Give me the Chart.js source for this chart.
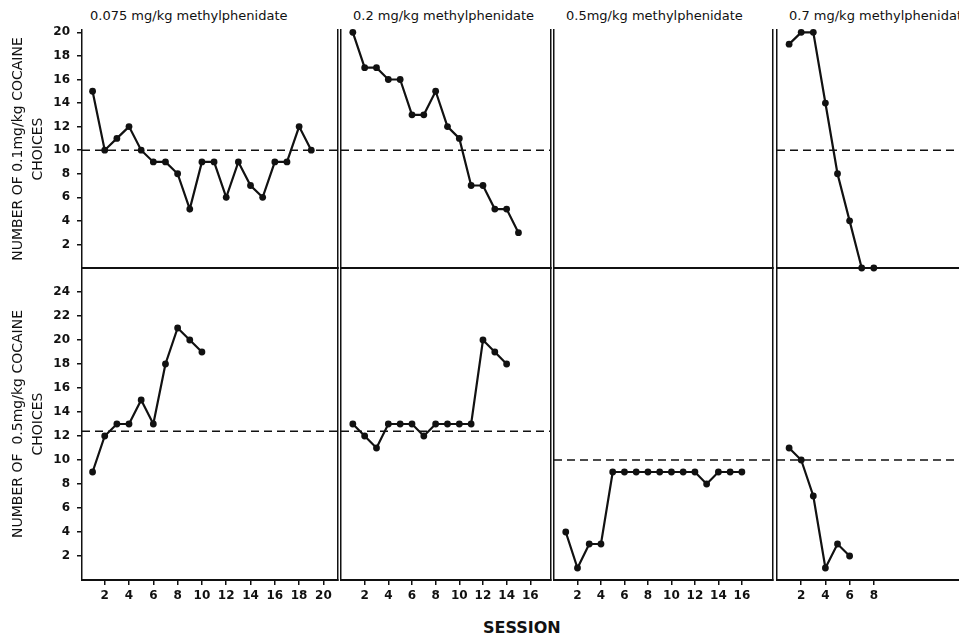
<!DOCTYPE html>
<html lang="en">
<head>
  <meta charset="utf-8" />
  <title>Cocaine choices under methylphenidate</title>
  <script src="https://cdn.jsdelivr.net/npm/chart.js"></script>
  <style>
    html, body { margin: 0; padding: 0; background: #fff; }
    #figure { position: relative; width: 959px; height: 639px; overflow: hidden; }
    #figure canvas { position: absolute; left: 0; top: 0; }
    .dose { position: absolute; top: 8px; font: 13px "DejaVu Sans", sans-serif; color: #111; white-space: nowrap; }
    #session { position: absolute; left: 483px; top: 618px; font: bold 16px "DejaVu Sans", sans-serif; color: #111; }
  </style>
</head>
<body>
  <div id="figure">
    <div id="session">SESSION</div>
  </div>

  <script>
    // ---- data ----
    const sessionNumbers = [1, 2, 3, 4, 5, 6, 7, 8, 9, 10, 11, 12, 13, 14, 15, 16, 17, 18, 19, 20];
    const doseTitles = ['0.075 mg/kg methylphenidate', '0.2 mg/kg methylphenidate',
                        '0.5mg/kg methylphenidate', '0.7 mg/kg methylphenidate'];

    // number of 0.1 mg/kg cocaine choices (top row)
    const lowCocMph075 = [15, 10, 11, 12, 10, 9, 9, 8, 5, 9, 9, 6, 9, 7, 6, 9, 9, 12, 10];
    const lowCocMph02  = [20, 17, 17, 16, 16, 13, 13, 15, 12, 11, 7, 7, 5, 5, 3];
    const lowCocMph05  = [];
    const lowCocMph07  = [19, 20, 20, 14, 8, 4, 0, 0];

    // number of 0.5 mg/kg cocaine choices (bottom row)
    const highCocMph075 = [9, 12, 13, 13, 15, 13, 18, 21, 20, 19];
    const highCocMph02  = [13, 12, 11, 13, 13, 13, 12, 13, 13, 13, 13, 20, 19, 18];
    const highCocMph05  = [4, 1, 3, 3, 9, 9, 9, 9, 9, 9, 9, 9, 8, 9, 9, 9];
    const highCocMph07  = [11, 10, 7, 1, 3, 2];

    // dashed baseline levels per panel
    const lowCocBaseline  = [10, 10, null, 10];
    const highCocBaseline = [12.4, 12.4, 10, 10];

    // tick labels
    const topYTicks    = [2, 4, 6, 8, 10, 12, 14, 16, 18, 20];
    const bottomYTicks = [2, 4, 6, 8, 10, 12, 14, 16, 18, 20, 22, 24];
    const xTicks075 = [2, 4, 6, 8, 10, 12, 14, 16, 18, 20];
    const xTicks02  = [2, 4, 6, 8, 10, 12, 14, 16];
    const xTicks05  = [2, 4, 6, 8, 10, 12, 14, 16];
    const xTicks07  = [2, 4, 6, 8];

    const yTitles = [['NUMBER OF 0.1mg/kg COCAINE', 'CHOICES'],
                     ['NUMBER OF  0.5mg/kg COCAINE', 'CHOICES']];

    // ---- layout ----
    const FIG_W = 980, FIG_H = 639, X_AXIS_H = 30;
    const INK = '#111';
    const FONT = '"DejaVu Sans", sans-serif';

    const columns = [
      { left: 82,  right: 338, min: 0.13, max: 21.2,  ticks: xTicks075, titleX: 90 },
      { left: 341, right: 551, min: 0,    max: 17.75, ticks: xTicks02,  titleX: 353 },
      { left: 554, right: 773, min: 0,    max: 18.65, ticks: xTicks05,  titleX: 566 },
      { left: 777, right: 970, min: 0,    max: 15.95, ticks: xTicks07,  titleX: 789 }
    ];
    const rows = [
      { top: 30,  bottom: 268, max: 20.2, ticks: topYTicks,    series: [lowCocMph075, lowCocMph02, lowCocMph05, lowCocMph07],    baseline: lowCocBaseline },
      { top: 268, bottom: 580, max: 26,   ticks: bottomYTicks, series: [highCocMph075, highCocMph02, highCocMph05, highCocMph07], baseline: highCocBaseline }
    ];

    const figure = document.getElementById('figure');

    doseTitles.forEach((t, c) => {
      const div = document.createElement('div');
      div.className = 'dose';
      div.style.left = columns[c].titleX + 'px';
      div.textContent = t;
      figure.appendChild(div);
    });

    function setTicks(values) {
      return scale => { scale.ticks = values.map(v => ({ value: v })); };
    }

    function makePanel(r, c) {
      const col = columns[c], row = rows[r];
      const canvas = document.createElement('canvas');
      canvas.width = FIG_W;
      canvas.height = FIG_H;
      figure.appendChild(canvas);

      const first = c === 0;
      const yWidth = first ? col.left : 0;
      const values = row.series[c];

      const datasets = [{
        data: values.map((v, i) => ({ x: sessionNumbers[i], y: v })),
        borderColor: INK,
        backgroundColor: INK,
        borderWidth: 2.2,
        pointRadius: 3.4,
        pointBorderWidth: 0,
        tension: 0,
        clip: false
      }];
      if (row.baseline[c] !== null) {
        datasets.push({
          data: [{ x: col.min, y: row.baseline[c] }, { x: col.max, y: row.baseline[c] }],
          borderColor: INK,
          borderWidth: 1.4,
          borderDash: [8, 5],
          pointRadius: 0,
          clip: false
        });
      }

      new Chart(canvas, {
        type: 'line',
        data: { datasets },
        options: {
          responsive: false,
          animation: false,
          events: [],
          devicePixelRatio: 1,
          layout: {
            padding: {
              left: col.left - yWidth,
              right: FIG_W - col.right,
              top: row.top,
              bottom: FIG_H - row.bottom - X_AXIS_H
            }
          },
          plugins: { legend: { display: false }, tooltip: { enabled: false } },
          scales: {
            x: {
              type: 'linear',
              min: col.min,
              max: col.max,
              afterBuildTicks: setTicks(col.ticks),
              afterFit: s => { s.height = X_AXIS_H; },
              ticks: { display: r === 1, padding: 4, color: INK, font: { family: FONT, size: 12, weight: 'bold' }, maxRotation: 0 },
              grid: { drawOnChartArea: false, drawTicks: r === 1, tickLength: 5, color: INK, lineWidth: 1.5 },
              border: { display: true, color: INK, width: 2 }
            },
            y: {
              min: 0,
              max: row.max,
              afterBuildTicks: setTicks(row.ticks),
              afterFit: s => { s.width = yWidth; },
              ticks: { display: first, padding: 7, color: INK, font: { family: FONT, size: 12, weight: 'bold' } },
              grid: { drawOnChartArea: false, drawTicks: first, tickLength: 5, color: INK, lineWidth: 1.5 },
              border: { display: true, color: INK, width: 1.5 },
              title: {
                display: first,
                text: yTitles[r],
                color: INK,
                padding: { top: 9, bottom: 0 },
                font: { family: FONT, size: 14, lineHeight: 1.4 }
              }
            },
            yRight: {
              position: 'right',
              afterFit: s => { s.width = 0; },
              ticks: { display: false },
              grid: { drawOnChartArea: false, drawTicks: false },
              border: { display: true, color: INK, width: 1.5 }
            }
          }
        }
      });
    }

    for (let r = 0; r < rows.length; r++) {
      for (let c = 0; c < columns.length; c++) makePanel(r, c);
    }
  </script>
</body>
</html>
